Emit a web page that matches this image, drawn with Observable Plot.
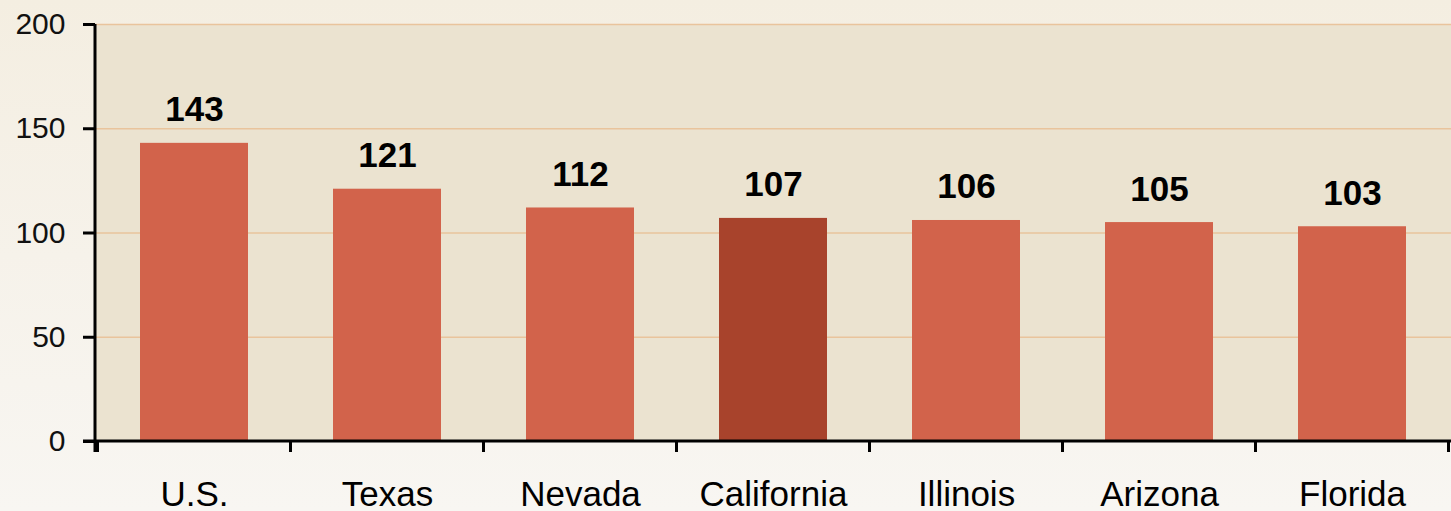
<!DOCTYPE html>
<html>
<head>
<meta charset="utf-8">
<script src="https://cdn.jsdelivr.net/npm/d3@7"></script>
<script src="https://cdn.jsdelivr.net/npm/@observablehq/plot@0.6"></script>
<style>
  html, body { margin: 0; padding: 0; }
  body { width: 1451px; height: 511px; overflow: hidden;
         background: linear-gradient(to bottom, #f4eee1 0%, #f6f2ea 50%, #f8f6f2 100%); }
  #chart svg { display: block; }
</style>
</head>
<body>
<div id="chart"></div>
<script>
const categories = ["U.S.", "Texas", "Nevada", "California", "Illinois", "Arizona", "Florida"];
const values = [143, 121, 112, 107, 106, 105, 103];
const highlight = "California";
const yTicks = [0, 50, 100, 150, 200];

const data = categories.map((c, i) => ({category: c, value: values[i]}));

const W = 1451, H = 511;
const FONT = "'Liberation Sans', Arial, sans-serif";

// Axis lines and band-boundary tick marks, placed through the x/y scales
function axisLines(index, scales, values, dims) {
  const g = d3.create("svg:g");
  const x = scales.scales.x;
  const bw = x.bandwidth;
  const step = x.step;
  const domain = x.domain;
  const y0 = scales.y(0);
  const yTop = scales.y(200);
  const xLeft = dims.marginLeft;
  const xRight = dims.width - dims.marginRight;
  const positions = domain.map(d => scales.x(d) - (step - bw) / 2);
  positions.push(scales.x(domain[domain.length - 1]) + bw + (step - bw) / 2);
  for (const px of positions) {
    g.append("line")
      .attr("x1", px).attr("x2", px)
      .attr("y1", y0).attr("y2", y0 + 11)
      .attr("stroke", "#000").attr("stroke-width", 3);
  }
  g.append("line")
    .attr("x1", xLeft).attr("x2", xLeft)
    .attr("y1", yTop).attr("y2", y0 + 11)
    .attr("stroke", "#000").attr("stroke-width", 3);
  g.append("line")
    .attr("x1", xLeft - 12).attr("x2", xRight)
    .attr("y1", y0).attr("y2", y0)
    .attr("stroke", "#000").attr("stroke-width", 3);
  return g.node();
}

const chart = Plot.plot({
  width: W,
  height: H,
  marginLeft: 95,
  marginRight: 0,
  marginTop: 24,
  marginBottom: 70,
  style: {background: "transparent", fontFamily: FONT, overflow: "visible"},
  x: {domain: categories, paddingInner: 0.44, paddingOuter: 0.22, label: null},
  y: {domain: [0, 200], label: null},
  marks: [
    Plot.frame({fill: "#ebe3d0", stroke: null}),
    Plot.gridY(yTicks.filter(d => d > 0), {stroke: "#e9c49c", strokeOpacity: 1, strokeWidth: 1.5}),
    Plot.barY(data, {x: "category", y: "value",
      fill: d => d.category === highlight ? "#a8432c" : "#d2634b"}),
    Plot.text(data, {x: "category", y: "value", text: d => String(d.value),
      fontSize: 35, fontWeight: "bold", fill: "#000", lineAnchor: "bottom", dy: -22}),
    Plot.axisY({ticks: yTicks, tickSize: 12, tickPadding: 18, fontSize: 30,
      stroke: "#000", strokeWidth: 3, fill: "#111", label: null}),
    Plot.axisX({tickSize: 0, tickPadding: 40, fontSize: 35, fill: "#000", label: null,
      style: {letterSpacing: "0.6px"}}),
    axisLines
  ]
});

document.getElementById("chart").appendChild(chart);
</script>
</body>
</html>
